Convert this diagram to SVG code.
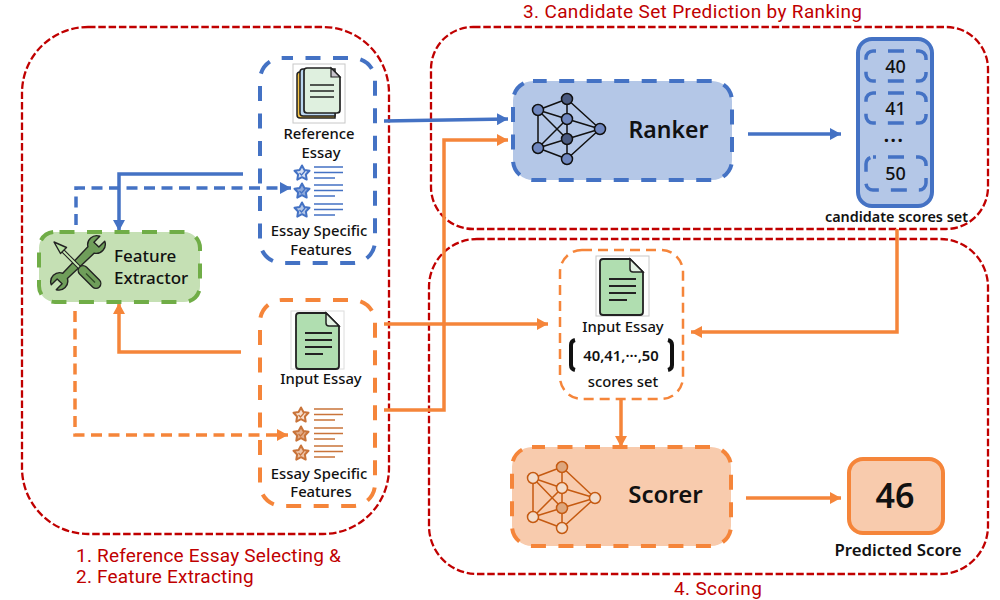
<svg xmlns="http://www.w3.org/2000/svg" width="1000" height="600" viewBox="0 0 1000 600">
<style>
text{font-family:"Noto Sans","Liberation Sans",sans-serif;fill:#111;font-weight:500;text-anchor:middle}
.region{fill:none;stroke:#c00000;stroke-width:2.300;stroke-dasharray:7.500 2.800}
text.rl{font-family:Roboto,"Liberation Sans",sans-serif;fill:#c00000;font-size:19px;font-weight:400;text-anchor:start;letter-spacing:.35px}
text.rs{letter-spacing:.2px}
.l{font-size:14.800px}
.blue{stroke:#4472c4;fill:none;stroke-width:3.500}
.orange{stroke:#f5853a;fill:none;stroke-width:3.500}
.dl{stroke-dasharray:11 6.500}
.box{stroke-width:4;stroke-dasharray:15 12.500;stroke-dashoffset:4}
.nb{stroke:#111;stroke-width:1.500}
.no{stroke:#c55a11;stroke-width:1.500}
.small{font-size:18px}
.in{fill:none;stroke:#4472c4;stroke-width:3.500;stroke-dasharray:16 12;stroke-dashoffset:13}
</style>
<defs>
<marker id="ab" markerUnits="userSpaceOnUse" markerWidth="12" markerHeight="12" refX="11" refY="6" orient="auto"><path d="M0 0L11 6L0 12Z" fill="#4472c4"/></marker>
<marker id="ao" markerUnits="userSpaceOnUse" markerWidth="12" markerHeight="12" refX="11" refY="6" orient="auto"><path d="M0 0L11 6L0 12Z" fill="#f5853a"/></marker>
<g id="star">
<path d="M0-7.500L2.400-3L7.500-2.200L3.900 1.500L4.700 6.600L0 4.200L-4.700 6.600L-3.900 1.500L-7.500-2.200L-2.400-3Z" stroke-width="2" stroke-linejoin="round"/>
<path d="M-2.500 0L-.5 2L3-2" fill="none" stroke-width="1.200"/>
</g>
<path id="bars" d="M0 0H29M0 5.500H29M0 11H21" stroke-width="1.600" fill="none"/>
<g id="page">
<path d="M-20-28H7L20-15V25Q20 28 17 28H-20Q-23 28-23 25V-25Q-23-28-20-28Z" fill="#b0deb0" stroke="#222" stroke-width="1.800"/>
<path d="M7-28V-18Q7-15 10-15H20Z" fill="#e3f1e3" stroke="#222" stroke-width="1.500"/>
<path d="M-14-8H13M-14-1H13M-14 6H13M-14 13H4" stroke="#222" stroke-width="1.800" fill="none"/>
</g>
</defs>

<g id="regions">
<rect class="region" x="22" y="27" width="367" height="507" rx="66"/>
<rect class="region" x="431" y="27" width="557" height="202" rx="42"/>
<rect class="region" x="429" y="239" width="559" height="335" rx="48"/>
<text class="rl" x="523" y="17.500">3. Candidate Set Prediction by Ranking</text>
<text class="rl rs" x="76" y="562">1. Reference Essay Selecting &amp;</text>
<text class="rl rs" x="76" y="583">2. Feature Extracting</text>
<text class="rl" x="674" y="595">4. Scoring</text>
</g>

<g id="connectors">
<path class="blue" d="M243 174H119V231" marker-end="url(#ab)"/>
<path class="blue dl" d="M76 225V188H291" marker-end="url(#ab)"/>
<path class="orange" d="M241 352H119V303" marker-end="url(#ao)"/>
<path class="orange dl" d="M75 311V435H288" marker-end="url(#ao)"/>
<path class="blue" d="M384 121L508 119" marker-end="url(#ab)"/>
<path class="orange" d="M384 410H444V140H508" marker-end="url(#ao)"/>
<path class="orange" d="M384 324H548" marker-end="url(#ao)"/>
<path class="blue" d="M748 134H841" marker-end="url(#ab)"/>
<path class="orange" d="M897 229V332H691" marker-end="url(#ao)"/>
<path class="orange" d="M621 399V447" marker-end="url(#ao)"/>
<path class="orange" d="M746 498H841" marker-end="url(#ao)"/>
</g>

<g id="reference-box">
<rect class="box" x="260" y="58" width="115" height="205" rx="22" fill="none" stroke="#4472c4"/>
<rect x="293" y="64" width="52" height="59" fill="#fff" stroke="#c8c8c8"/>
<path d="M300 72H335V118H300Q297 118 297 115V75Q297 72 300 72Z" fill="#f7c548" stroke="#222" stroke-width="1.500"/>
<path d="M303 69H335V116H303Q300 116 300 113V72Q300 69 303 69Z" fill="#bcd7f0" stroke="#222" stroke-width="1.500"/>
<path d="M307 68H331L340 77V110Q340 113 337 113H307Q304 113 304 110V71Q304 68 307 68Z" fill="#dff0df" stroke="#222" stroke-width="1.700"/>
<path d="M331 68V77H340Z" fill="#c8c4cc" stroke="#222" stroke-width="1.200"/>
<path d="M310 85H334M310 91H334M310 97H334" stroke="#222" stroke-width="1.600"/>
<text class="l" x="319" y="139">Reference</text>
<text class="l" x="321" y="158">Essay</text>
<g fill="#d5e0f3" stroke="#4472c4">
<use href="#star" x="302" y="173"/><use href="#star" x="302" y="191" fill="#8ea9db"/><use href="#star" x="302" y="210" fill="#b4c7e7"/>
<use href="#bars" x="314" y="167"/><use href="#bars" x="314" y="185"/><use href="#bars" x="314" y="204"/>
</g>
<text class="l" x="319" y="236">Essay Specific</text>
<text class="l" x="321" y="255">Features</text>
</g>

<g id="input-box">
<rect class="box" x="260" y="300" width="115" height="206" rx="22" fill="none" stroke="#f5853a"/>
<rect x="291" y="311" width="53" height="58" fill="#fff" stroke="#dcdcdc"/>
<use href="#page" x="319" y="341"/>
<text class="l" x="321" y="384">Input Essay</text>
<g fill="#f8e0cf" stroke="#c9743a">
<use href="#star" x="301" y="415"/><use href="#star" x="301" y="434" fill="#e4ac87"/><use href="#star" x="301" y="453" fill="#eec3a6"/>
<use href="#bars" x="314" y="409"/><use href="#bars" x="314" y="428"/><use href="#bars" x="314" y="446"/>
</g>
<text class="l" x="319" y="479">Essay Specific</text>
<text class="l" x="321" y="497">Features</text>
</g>

<g id="feature-extractor">
<rect class="box" x="39" y="232" width="161" height="70" rx="16" fill="#c5e0b4" stroke="#70ad47" style="stroke-dashoffset:23"/>
<path transform="translate(78 263) rotate(-45)" d="M-18-3.500L18.500-4.500A9 9 0 0 1 34.300-3.500L26-3.500L26 3.500L34.300 3.500A9 9 0 0 1 18.500 4.500L-18.500 3.500A9 9 0 0 1-34.300 3.500L-26 3.500L-26-3.500L-34.300-3.500A9 9 0 0 1-18-3.500Z" fill="#6f9e5a" stroke="#222" stroke-width="1.400" stroke-linejoin="round"/>
<path d="M62 250L82 270" stroke="#222" stroke-width="4" fill="none"/>
<path d="M62 250L82 270" stroke="#c9ecb4" stroke-width="1.800" fill="none"/>
<path d="M54 242L66.500 247.500L60.500 253.500Z" fill="#b5e0a0" stroke="#222" stroke-width="1.400" stroke-linejoin="round"/>
<path d="M83 270.500L96 283.500" stroke="#222" stroke-width="11" stroke-linecap="round" fill="none"/>
<path d="M83 270.500L96 283.500" stroke="#6f9e5a" stroke-width="8.200" stroke-linecap="round" fill="none"/>
<path d="M86 273.500L95 282.500" stroke="#2d4a25" stroke-width="1.200" fill="none"/>
<text x="114" y="262" style="font-size:17px;text-anchor:start">Feature</text>
<text x="114" y="284" style="font-size:17px;text-anchor:start">Extractor</text>
</g>

<g id="ranker">
<rect class="box" x="513" y="81" width="219" height="99" rx="20" fill="#b4c7e7" stroke="#4472c4" style="stroke-dashoffset:1.300"/>
<path class="nb" fill="none" d="M538 110L567 99M538 110L567 119M538 110L567 139M538 110V148M567 99V119M567 99L600 129M567 119L600 129M567 119V139M567 119L538 148M567 139L538 148M567 139L600 129M567 139V159M538 148L567 159M567 159L600 129"/>
<g class="nb" fill="#6f87bf"><circle cx="538" cy="110" r="5.500"/><circle cx="567" cy="99" r="5.500" fill="#4a5a80"/><circle cx="567" cy="119" r="5.500"/><circle cx="567" cy="139" r="5.500" fill="#4a5a80"/><circle cx="538" cy="148" r="5.500"/><circle cx="567" cy="159" r="5.500"/><circle cx="600" cy="129" r="5.500"/></g>
<text x="668.500" y="138" style="font-size:23px;font-weight:600">Ranker</text>
</g>

<g id="candidate-scores">
<rect x="858" y="39" width="74" height="167" rx="14" fill="#b4c7e7" stroke="#4472c4" stroke-width="4"/>
<rect class="in" x="866" y="51" width="60" height="30" rx="7"/>
<rect class="in" x="866" y="93" width="60" height="30" rx="7"/>
<rect class="in" x="866" y="157" width="60" height="33" rx="7"/>
<text class="small" x="895.500" y="73">40</text>
<text class="small" x="895.500" y="115">41</text>
<text x="894" y="142" style="font-size:19px;letter-spacing:1.500px;font-weight:700">...</text>
<text class="small" x="895.500" y="180">50</text>
<text x="896.500" y="222" style="font-size:14.400px;font-weight:600">candidate scores set</text>
</g>

<g id="input-scores-box">
<rect x="560" y="250" width="123" height="149" rx="22" fill="none" stroke="#f5853a" stroke-width="2.500" stroke-dasharray="10 6"/>
<rect x="596" y="256" width="53" height="60" fill="#fff" stroke="#c8c8c8"/>
<use href="#page" x="623" y="287"/>
<text class="l" x="623" y="332">Input Essay</text>
<path d="M575 340Q571 341 571 345V365Q571 369 575 370" fill="none" stroke="#111" stroke-width="4"/>
<path d="M668 340Q672 341 672 345V365Q672 369 668 370" fill="none" stroke="#111" stroke-width="4"/>
<text x="621" y="361" style="font-size:14.800px;font-weight:600">40,41,···,50</text>
<text class="l" x="623" y="387">scores set</text>
</g>

<g id="scorer">
<rect class="box" x="512" y="447" width="219" height="99" rx="20" fill="#f8cbad" stroke="#f5853a" style="stroke-dashoffset:2"/>
<path class="no" fill="none" d="M533 478L562 467M533 478L562 488M533 478L562 508M533 478V517M562 467V488M562 467L595 498M562 488L595 498M562 488V508M562 488L533 517M562 508L533 517M562 508L595 498M562 508V528M533 517L562 528M562 528L595 498"/>
<g class="no" fill="#f3dccb"><circle cx="533" cy="478" r="5.500"/><circle cx="562" cy="467" r="5.500" fill="#dda67d"/><circle cx="562" cy="488" r="5.500"/><circle cx="562" cy="508" r="5.500" fill="#dda67d"/><circle cx="533" cy="517" r="5.500"/><circle cx="562" cy="528" r="5.500"/><circle cx="595" cy="498" r="5.500"/></g>
<text x="665.500" y="503" style="font-size:24px;font-weight:600">Scorer</text>
</g>

<g id="predicted-score">
<rect x="849" y="459" width="94" height="74" rx="14" fill="#f8cbad" stroke="#f5853a" stroke-width="4"/>
<text x="895" y="508" style="font-size:34px;font-weight:600">46</text>
<text x="898" y="556" style="font-size:16.800px;font-weight:600">Predicted Score</text>
</g>
</svg>
